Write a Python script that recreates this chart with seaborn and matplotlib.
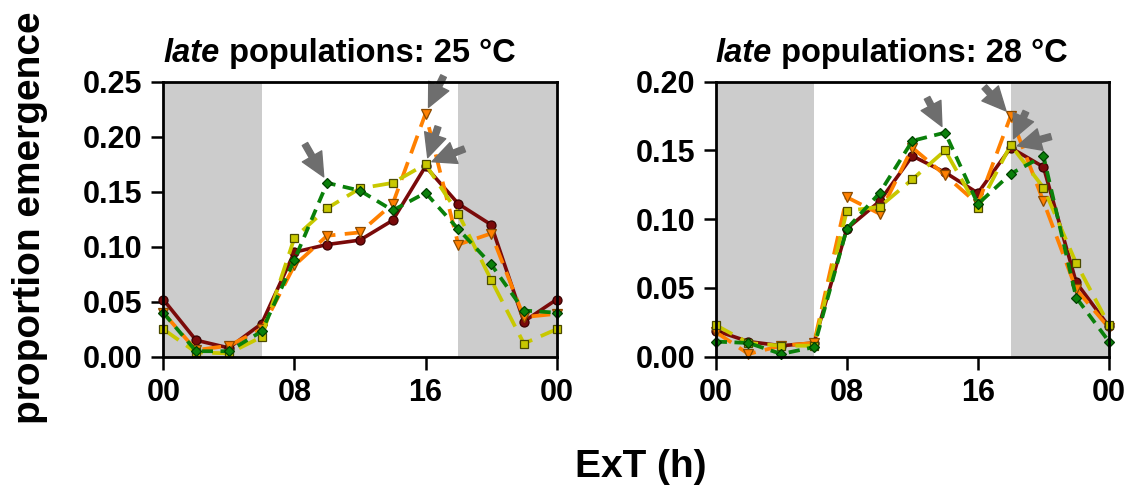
import matplotlib
matplotlib.use("Agg")
import matplotlib.pyplot as plt
import seaborn as sns
import numpy as np

# ---------------- data ----------------
hours = [0, 2, 4, 6, 8, 10, 12, 14, 16, 18, 20, 22, 24]
tick_hours = [0, 8, 16, 24]
tick_labels = ["00", "08", "16", "00"]

# 25 °C panel
red_25 = [0.052, 0.015, 0.008, 0.030, 0.095, 0.102, 0.106, 0.124, 0.173, 0.139, 0.120, 0.032, 0.052]
orange_25 = [0.040, 0.006, 0.010, 0.025, 0.083, 0.110, 0.113, 0.139, 0.221, 0.102, 0.112, 0.036, 0.039]
yellow_25 = [0.025, 0.004, 0.003, 0.018, 0.108, 0.135, 0.153, 0.158, 0.175, 0.130, 0.070, 0.012, 0.025]
green_25 = [0.040, 0.005, 0.005, 0.023, 0.088, 0.158, 0.151, 0.133, 0.149, 0.116, 0.084, 0.042, 0.040]

# 28 °C panel
red_28 = [0.019, 0.011, 0.008, 0.010, 0.093, 0.113, 0.146, 0.134, 0.119, 0.152, 0.138, 0.054, 0.022]
orange_28 = [0.018, 0.002, 0.008, 0.010, 0.116, 0.104, 0.152, 0.132, 0.111, 0.175, 0.113, 0.049, 0.021]
yellow_28 = [0.023, 0.010, 0.008, 0.008, 0.106, 0.109, 0.129, 0.150, 0.108, 0.154, 0.123, 0.068, 0.023]
green_28 = [0.011, 0.010, 0.002, 0.007, 0.093, 0.119, 0.157, 0.163, 0.111, 0.133, 0.146, 0.043, 0.011]

titles_temp = ["25 °C", "28 °C"]
ymax = [0.25, 0.20]

# arrows: (series name, hour index, dx pts, dy pts)
arrows_25 = [("green", 5, -16, 28), ("orange", 8, 13, 27), ("yellow", 8, 9, 27), ("yellow", 8, 28, 11)]
arrows_28 = [("green", 7, -13, 25), ("orange", 9, -19, 21), ("yellow", 9, 11, 24), ("red", 9, 29, 8)]

# ---------------- style ----------------
sns.set_style("ticks")
plt.rcParams["font.family"] = ["Liberation Sans", "DejaVu Sans"]
plt.rcParams["font.weight"] = "bold"
for key in ["text.color", "axes.labelcolor", "xtick.color", "ytick.color", "axes.edgecolor"]:
    plt.rcParams[key] = "black"

styles = {
    "red": dict(color="#7a0a0a", linestyle="-", marker="o", mec="#3a0000", lw=2.6, ms=6.5),
    "orange": dict(color="#ff8000", linestyle=(0, (5, 2.5)), marker="v", mec="#8a4a00", lw=2.7, ms=6.5),
    "yellow": dict(color="#c8c800", linestyle=(0, (5, 2.5)), marker="s", mec="#4a4a00", lw=2.7, ms=6),
    "green": dict(color="#0a800a", linestyle=(0, (3, 2)), marker="D", mec="#004000", lw=2.7, ms=5.5),
}

fig = plt.figure(figsize=(11.33, 4.91), dpi=100)
ax_l = fig.add_axes([0.1441, 0.2735, 0.3472, 0.5601])
ax_r = fig.add_axes([0.6317, 0.2735, 0.3471, 0.5601])

panels = [
    (ax_l, {"red": red_25, "orange": orange_25, "yellow": yellow_25, "green": green_25}, arrows_25),
    (ax_r, {"red": red_28, "orange": orange_28, "yellow": yellow_28, "green": green_28}, arrows_28),
]

for i, (ax, series, arrows) in enumerate(panels):
    ax.axvspan(0, 6, color="#cccccc", lw=0, zorder=0)
    ax.axvspan(18, 24, color="#cccccc", lw=0, zorder=0)
    for name in ["red", "orange", "yellow", "green"]:
        st = styles[name]
        sns.lineplot(x=hours, y=series[name], ax=ax, color=st["color"], linestyle=st["linestyle"],
                     marker=st["marker"], markeredgecolor=st["mec"], markeredgewidth=0.9,
                     markersize=st["ms"], linewidth=st["lw"], errorbar=None, zorder=3,
                     clip_on=False)
    for name, idx, dx, dy in arrows:
        ax.annotate("", xy=(hours[idx], series[name][idx]), xytext=(dx, dy),
                    textcoords="offset points", annotation_clip=False,
                    arrowprops=dict(arrowstyle="simple,head_length=0.85,head_width=0.8,tail_width=0.22",
                                    color="#6e6e6e", mutation_scale=20, shrinkA=0, shrinkB=5),
                    zorder=5)
    ax.set_xlim(0, 24)
    ax.set_ylim(0, ymax[i])
    ax.set_xticks(tick_hours)
    ax.set_xticklabels(tick_labels)
    ax.set_yticks(np.arange(0, ymax[i] + 1e-9, 0.05))
    ax.set_yticklabels([f"{v:.2f}" for v in np.arange(0, ymax[i] + 1e-9, 0.05)])
    ax.tick_params(axis="both", direction="out", length=9, width=1.8, labelsize=22, pad=6,
                   colors="black")
    for lab in ax.get_xticklabels() + ax.get_yticklabels():
        lab.set_fontweight("bold")
    for sp in ax.spines.values():
        sp.set_visible(True)
        sp.set_linewidth(2.0)
        sp.set_color("black")
        sp.set_zorder(6)
    ax.set_xlabel("")
    ax.set_ylabel("")
    # title: italic "late" + bold rest
    t1 = ax.annotate("late", xy=(0, 1), xycoords="axes fraction", xytext=(0, 9),
                     textcoords="offset points", ha="left", va="bottom",
                     fontsize=23.5, fontweight="bold", fontstyle="italic", color="black")
    ax.annotate(" populations: " + titles_temp[i], xy=(1, 0), xycoords=t1, ha="left", va="bottom",
                fontsize=23.5, fontweight="bold", color="black")

fig.text(30 / 1133, 0.556, "proportion emergence", rotation=90, ha="center", va="center",
         fontsize=28, fontweight="bold", color="black")
fig.text(641 / 1133, 0.049, "ExT (h)", ha="center", va="center", fontsize=28, fontweight="bold",
         color="black")

fig.savefig("out.png", dpi=100)
